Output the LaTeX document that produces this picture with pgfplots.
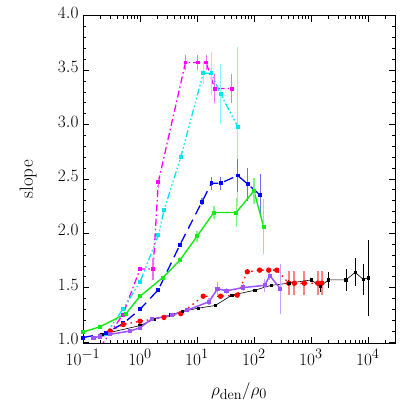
\documentclass[border=0pt]{standalone}
\usepackage{pgfplots}
\pgfplotsset{compat=1.18}

\definecolor{cMag}{RGB}{255,0,255}
\definecolor{cMagE}{RGB}{245,110,245}
\definecolor{cCya}{RGB}{0,230,240}
\definecolor{cCyaE}{RGB}{140,240,245}
\definecolor{cBlu}{RGB}{0,0,255}
\definecolor{cBluE}{RGB}{110,110,255}
\definecolor{cGrn}{RGB}{20,235,20}
\definecolor{cGrnE}{RGB}{130,245,130}
\definecolor{cRed}{RGB}{255,0,0}
\definecolor{cRedE}{RGB}{255,130,130}
\definecolor{cPur}{RGB}{155,85,250}
\definecolor{cPurE}{RGB}{200,160,255}

\pgfplotsset{
  errs/.style 2 args={error bars/.cd, y dir=both, y explicit, error mark=none,
    error bar style={#1, solid, line width=#2}},
}

\begin{document}
\begin{tikzpicture}
\path[use as bounding box] (-83pt,-72pt) rectangle (332pt,343pt);
\begin{axis}[
  at={(0,0)}, anchor=south west,
  scale only axis,
  width=312pt, height=327.3pt,
  xmode=log, log basis x=10,
  xmin=0.1, xmax=3e4,
  ymin=0.99, ymax=4.0,
  xtick={0.1,1,10,100,1000,10000},
  minor xtick={0.2,0.3,0.4,0.5,0.6,0.7,0.8,0.9,
    2,3,4,5,6,7,8,9,20,30,40,50,60,70,80,90,
    200,300,400,500,600,700,800,900,2000,3000,4000,5000,6000,7000,8000,9000,
    20000,30000},
  ytick={1.0,1.5,2.0,2.5,3.0,3.5,4.0},
  minor y tick num=4,
  tick align=inside,
  tick pos=both,
  xticklabel pos=lower, yticklabel pos=left,
  major tick length=6pt, minor tick length=3pt,
  every tick/.style={black, line width=0.5pt},
  axis line style={line width=0.6pt},
  font=\fontsize{19}{22}\selectfont,
  ticklabel style={font=\fontsize{19}{22}\selectfont},
  xticklabel style={yshift=-3pt},
  yticklabel style={yshift=3pt, xshift=-1pt,
    /pgf/number format/.cd, fixed, fixed zerofill, precision=1},
  xlabel={$\rho_{\rm den}/\rho_0$},
  ylabel={slope},
  every axis x label/.style={at={(axis description cs:0.5,-0.147)}, anchor=center},
  every axis y label/.style={at={(axis description cs:-0.176,0.5)}, rotate=90, anchor=center},
  clip=true,
]
% magenta, dash dot
\addplot[cMag, line width=1.3pt, dash pattern=on 7pt off 3pt on 1.5pt off 3pt,
  mark=square*, mark size=1.3pt, mark options={solid}, errs={cMagE}{1.2pt}]
  coordinates {
  (0.2,0.95) +- (0,0)
  (0.5,1.25) +- (0,0)
  (1.0,1.67) +- (0,0)
  (1.7,1.67) +- (0,0.1)
  (2.1,2.47) +- (0,0.05)
  (6.3,3.57) +- (0,0.07)
  (10.4,3.57) +- (0,0.07)
  (14.5,3.57) +- (0,0.07)
  (20.5,3.33) +- (0,0.13)
  (41,3.33) +- (0,0.13)
};
% cyan, dash dot dot dot
\addplot[cCya, line width=1.3pt,
  dash pattern=on 7pt off 2.5pt on 1.5pt off 2.5pt on 1.5pt off 2.5pt on 1.5pt off 2.5pt,
  mark=square*, mark size=1.3pt, mark options={solid}, errs={cCyaE}{1.4pt}]
  coordinates {
  (0.25,1.07) +- (0,0)
  (0.5,1.30) +- (0,0)
  (1.0,1.55) +- (0,0)
  (2.1,1.98) +- (0,0)
  (2.64,2.21) +- (0,0.02)
  (5.2,2.70) +- (0,0.03)
  (12.9,3.47) +- (0,0.1)
  (18,3.47) +- (0,0.2)
  (26,3.28) +- (0,0.28)
  (52,2.98) +- (0,0.73)
};
% blue, dashed
\addplot[cBlu, line width=1.3pt, dash pattern=on 10pt off 6pt,
  mark=square*, mark size=1.3pt, mark options={solid}, errs={cBluE}{1.2pt}]
  coordinates {
  (0.1,1.04) +- (0,0)
  (0.25,1.08) +- (0,0)
  (0.51,1.17) +- (0,0)
  (1.0,1.30) +- (0,0)
  (2.1,1.48) +- (0,0)
  (5.0,1.89) +- (0,0)
  (12.3,2.29) +- (0,0.03)
  (18,2.46) +- (0,0.06)
  (26,2.46) +- (0,0.06)
  (52,2.53) +- (0,0.15)
  (78.5,2.45) +- (0,0.15)
  (129,2.35) +- (0,0.19)
};
% green, solid
\addplot[cGrn, line width=1.4pt, solid,
  mark=square*, mark size=1.3pt, errs={cGrnE}{1.4pt}]
  coordinates {
  (0.1,1.09) +- (0,0)
  (0.2,1.14) +- (0,0)
  (0.57,1.26) +- (0,0)
  (1.0,1.42) +- (0,0)
  (2.5,1.59) +- (0,0.02)
  (5.0,1.75) +- (0,0.03)
  (10,1.97) +- (0,0.05)
  (19.8,2.19) +- (0,0.06)
  (49,2.19) +- (0,0.13)
  (100,2.39) +- (0,0.12)
  (148,2.06) +- (0,0.25)
};
% red, dotted
\addplot[cRed, line width=1.3pt, dash pattern=on 1.5pt off 4pt,
  mark=*, mark size=2pt, mark options={solid}, errs={cRedE}{2pt}]
  coordinates {
  (0.3,1.10) +- (0,0)
  (0.51,1.16) +- (0,0.01)
  (1.0,1.19) +- (0,0.01)
  (2.64,1.225) +- (0,0.01)
  (5.2,1.26) +- (0,0.01)
  (12.9,1.42) +- (0,0.01)
  (26,1.42) +- (0,0.01)
  (51,1.43) +- (0,0.02)
  (76.7,1.645) +- (0,0.02)
  (126,1.66) +- (0,0.02)
  (182,1.66) +- (0,0.02)
  (252,1.66) +- (0,0.02)
  (409,1.54) +- (0,0.11)
  (515,1.54) +- (0,0.11)
  (770,1.54) +- (0,0.11)
  (1320,1.54) +- (0,0.11)
  (1550,1.54) +- (0,0.11)
};
% black, thin solid
\addplot[black, line width=0.6pt, solid,
  mark=square*, mark size=1.2pt, errs={black}{0.6pt}]
  coordinates {
  (0.215,1.07) +- (0,0)
  (1.0,1.15) +- (0,0)
  (1.8,1.21) +- (0,0)
  (3.5,1.25) +- (0,0)
  (5.5,1.28) +- (0,0)
  (10.5,1.31) +- (0,0)
  (21,1.335) +- (0,0)
  (41,1.43) +- (0,0.01)
  (103,1.475) +- (0,0.01)
  (200,1.52) +- (0,0.01)
  (409,1.54) +- (0,0.03)
  (1025,1.57) +- (0,0.02)
  (1450,1.51) +- (0,0.05)
  (2040,1.57) +- (0,0.07)
  (4120,1.57) +- (0,0.10)
  (6000,1.64) +- (0,0.13)
  (8300,1.575) +- (0,0.14)
  (10100,1.59) +- (0,0.35)
};
% purple, solid
\addplot[cPur, line width=1.5pt, solid,
  mark=square*, mark size=1.3pt, errs={cPurE}{1.4pt}]
  coordinates {
  (0.153,1.04) +- (0,0)
  (0.2,1.05) +- (0,0)
  (0.3,1.07) +- (0,0)
  (0.67,1.10) +- (0,0)
  (1.0,1.13) +- (0,0)
  (1.6,1.21) +- (0,0.01)
  (3.6,1.245) +- (0,0.01)
  (6.6,1.29) +- (0,0.01)
  (16.4,1.37) +- (0,0.03)
  (23,1.49) +- (0,0.06)
  (33,1.47) +- (0,0.03)
  (65,1.50) +- (0,0.03)
  (155,1.52) +- (0,0.06)
  (190,1.61) +- (0,0.04)
  (290,1.49) +- (0,0.23)
};
\end{axis}
\end{tikzpicture}
\end{document}
